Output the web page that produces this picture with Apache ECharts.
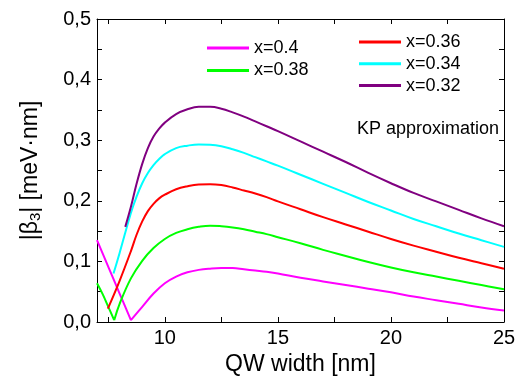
<!DOCTYPE html>
<html>
<head>
<meta charset="utf-8">
<script src="https://cdn.jsdelivr.net/npm/echarts@6/dist/echarts.min.js"></script>
<style>
  html, body { margin: 0; padding: 0; background: #fff; }
  #chart { width: 521px; height: 382px; }
</style>
</head>
<body>
<div id="chart"></div>
<script>
const fontFamily = '"Liberation Sans", Arial, sans-serif';

const seriesNames = ['x=0.4', 'x=0.38', 'x=0.36', 'x=0.34', 'x=0.32'];
const seriesColors = ['#ff00ff', '#00ff00', '#ff0000', '#00ffff', '#800080'];

const x040 = [7, 7.5, 8, 8.5, 9, 9.5, 10, 10.5, 11, 11.5, 12, 12.5, 13, 13.5, 14, 14.5, 15, 16, 17, 18, 19, 20, 21, 22, 23, 24, 25];
const y040 = [0.135, 0.091, 0.047, 0.003, 0.025, 0.047, 0.064, 0.075, 0.082, 0.086, 0.088, 0.089, 0.089, 0.087, 0.085, 0.083, 0.08, 0.073, 0.067, 0.061, 0.055, 0.049, 0.042, 0.036, 0.03, 0.024, 0.019];

const x038 = [7, 7.25, 7.5, 7.76, 8, 8.5, 9, 9.5, 10, 10.5, 11, 11.5, 12, 12.5, 13, 13.5, 14, 14.5, 15, 16, 17, 18, 19, 20, 21, 22, 23, 24, 25];
const y038 = [0.064, 0.046, 0.025, 0.003, 0.03, 0.072, 0.101, 0.122, 0.137, 0.147, 0.153, 0.157, 0.159, 0.158, 0.156, 0.153, 0.149, 0.145, 0.14, 0.13, 0.119, 0.109, 0.099, 0.09, 0.082, 0.075, 0.068, 0.061, 0.054];

const x036 = [7.48, 8, 8.5, 8.75, 9, 9.25, 9.5, 9.75, 10, 10.5, 11, 11.5, 12, 12.5, 13, 13.5, 14, 14.5, 15, 16, 17, 18, 19, 20, 21, 22, 23, 24, 25];
const y036 = [0.022, 0.068, 0.117, 0.144, 0.166, 0.183, 0.195, 0.204, 0.21, 0.219, 0.224, 0.227, 0.2275, 0.226, 0.222, 0.217, 0.212, 0.206, 0.199, 0.186, 0.173, 0.161, 0.149, 0.137, 0.126, 0.116, 0.106, 0.097, 0.088];

const x034 = [7.73, 8, 8.5, 8.75, 9, 9.25, 9.5, 9.75, 10, 10.5, 11, 11.5, 12, 12.5, 13, 13.5, 14, 14.5, 15, 16, 17, 18, 19, 20, 21, 22, 23, 24, 25];
const y034 = [0.08, 0.114, 0.18, 0.207, 0.229, 0.246, 0.259, 0.269, 0.277, 0.287, 0.291, 0.293, 0.2925, 0.29, 0.285, 0.279, 0.272, 0.265, 0.258, 0.243, 0.228, 0.213, 0.198, 0.184, 0.17, 0.158, 0.146, 0.135, 0.124];

const x032 = [8.25, 8.5, 8.75, 9, 9.25, 9.5, 9.75, 10, 10.5, 11, 11.5, 12, 12.5, 13, 13.5, 14, 14.5, 15, 16, 17, 18, 19, 20, 21, 22, 23, 24, 25];
const y032 = [0.157, 0.19, 0.228, 0.261, 0.287, 0.306, 0.319, 0.329, 0.343, 0.351, 0.355, 0.355, 0.352, 0.346, 0.339, 0.331, 0.323, 0.315, 0.298, 0.281, 0.264, 0.246, 0.229, 0.213, 0.199, 0.185, 0.171, 0.158];

// x where a curve has a sharp V-shaped minimum (null = none)
const cuspX = [8.5, 7.76, null, null, null];

const seriesX = [x040, x038, x036, x034, x032];
const seriesY = [y040, y038, y036, y034, y032];

const xLabelValues = [10, 15, 20, 25];
const xTickValues = [7.5, 10, 12.5, 15, 17.5, 20, 22.5, 25];

function buildData(i) {
  const out = [];
  seriesX[i].forEach((x, j) => {
    out.push([x, seriesY[i][j]]);
    if (x === cuspX[i]) {
      // break the smoothed path at the cusp so the V stays sharp
      out.push([x, '-']);
      out.push([x, seriesY[i][j]]);
    }
  });
  return out;
}

const chart = echarts.init(document.getElementById('chart'), null, { renderer: 'canvas' });

const frameLine = { show: true, onZero: false, lineStyle: { color: '#000', width: 1 } };
const tick = { show: true, inside: true, length: 5, lineStyle: { color: '#000' } };
const legendText = { fontFamily, fontSize: 18, color: '#000', lineHeight: 18 };

chart.setOption({
  backgroundColor: '#fff',
  animation: false,
  textStyle: { fontFamily },
  grid: { left: 97, right: 17, top: 19, bottom: 60 },
  legend: [
    {
      data: seriesNames.slice(0, 2),
      orient: 'vertical', padding: 0,
      left: 207, top: 39,
      icon: 'rect', itemWidth: 42, itemHeight: 3, itemGap: 4.4,
      textStyle: legendText
    },
    {
      data: seriesNames.slice(2),
      orient: 'vertical', padding: 0,
      left: 359, top: 33,
      icon: 'rect', itemWidth: 42, itemHeight: 3, itemGap: 3.8,
      textStyle: legendText
    }
  ],
  graphic: [{
    type: 'text', right: 22, top: 120,
    style: { text: 'KP approximation', fontFamily, fontSize: 18, fill: '#000' }
  }],
  xAxis: [
    {
      type: 'value', min: 7, max: 25, position: 'bottom',
      name: 'QW width [nm]', nameLocation: 'middle', nameGap: 27,
      nameTextStyle: { fontFamily, fontSize: 23, color: '#000' },
      axisLine: frameLine,
      axisTick: { ...tick, customValues: xTickValues },
      axisLabel: { customValues: xLabelValues, fontFamily, fontSize: 20, color: '#000', margin: 6 },
      splitLine: { show: false }
    },
    {
      type: 'value', min: 7, max: 25, position: 'top',
      axisLine: frameLine,
      axisTick: { ...tick, customValues: xTickValues },
      axisLabel: { show: false },
      splitLine: { show: false }
    }
  ],
  yAxis: [
    {
      type: 'value', min: 0, max: 0.5, interval: 0.1, position: 'left',
      name: '|β{sub|3}| [meV·nm]', nameLocation: 'middle', nameGap: 54,
      nameTextStyle: {
        fontFamily, fontSize: 23, color: '#000',
        rich: { sub: { fontFamily, fontSize: 15, color: '#000', padding: [10, 0, 0, 0] } }
      },
      axisLine: frameLine,
      axisTick: tick,
      minorTick: { show: true, splitNumber: 2, length: 5, lineStyle: { color: '#000' } },
      axisLabel: {
        fontFamily, fontSize: 20, color: '#000', margin: 6,
        formatter: (v) => v.toFixed(1).replace('.', ',')
      },
      splitLine: { show: false }
    },
    {
      type: 'value', min: 0, max: 0.5, interval: 0.1, position: 'right',
      axisLine: frameLine,
      axisTick: tick,
      minorTick: { show: true, splitNumber: 2, length: 5, lineStyle: { color: '#000' } },
      axisLabel: { show: false },
      splitLine: { show: false }
    }
  ],
  series: seriesNames.map((name, i) => ({
    name,
    type: 'line',
    xAxisIndex: 0,
    yAxisIndex: 0,
    showSymbol: false,
    connectNulls: false,
    smooth: 0.4,
    color: seriesColors[i],
    lineStyle: { width: 2, color: seriesColors[i] },
    data: buildData(i)
  }))
});
</script>
</body>
</html>
